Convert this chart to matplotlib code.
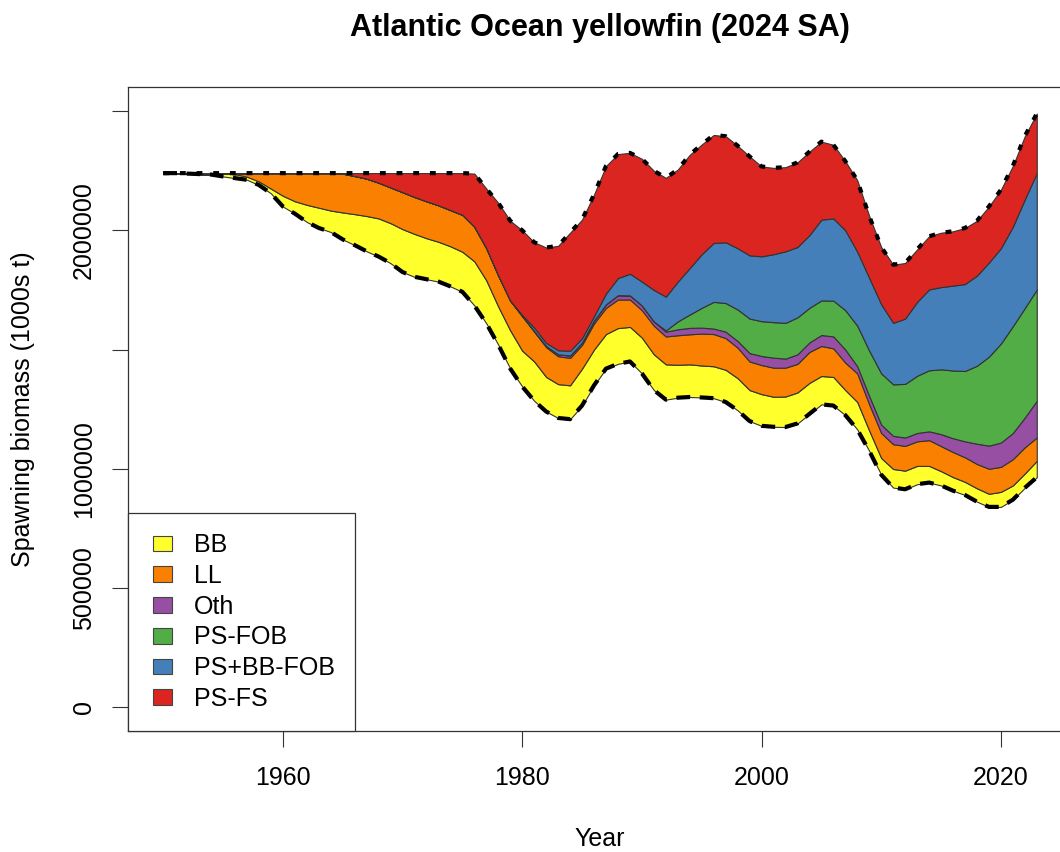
import numpy as np
import matplotlib
matplotlib.use("Agg")
import matplotlib.pyplot as plt
from matplotlib.patches import Patch, Rectangle
from matplotlib.legend_handler import HandlerPatch

plt.rcParams["font.family"] = ["Liberation Sans", "DejaVu Sans"]

# ---------------- data (spawning biomass, millions) ----------------
years = np.arange(1950, 2024)

# actual spawning biomass (bottom, dashed)
ssb = [2.240, 2.240, 2.238, 2.236, 2.234, 2.226, 2.219, 2.212, 2.190, 2.155,
       2.100, 2.070, 2.035, 2.010, 1.993, 1.962, 1.938, 1.912, 1.890, 1.862,
       1.825, 1.805, 1.795, 1.785, 1.765, 1.742, 1.685, 1.610, 1.520, 1.420,
       1.345, 1.285, 1.240, 1.213, 1.208, 1.265, 1.350, 1.420, 1.440, 1.450,
       1.400, 1.330, 1.290, 1.298, 1.301, 1.299, 1.296, 1.280, 1.245, 1.200,
       1.180, 1.176, 1.175, 1.190, 1.230, 1.270, 1.265, 1.225, 1.165, 1.075,
       0.975, 0.921, 0.914, 0.935, 0.942, 0.930, 0.908, 0.890, 0.862, 0.840,
       0.840, 0.870, 0.920, 0.964]

# upper edge of the BB layer (from 1955)
bb_start = 1955
top_bb = [2.238, 2.236, 2.225, 2.205, 2.175,
          2.145, 2.122, 2.107, 2.095, 2.083, 2.075, 2.068, 2.060, 2.050, 2.030,
          2.005, 1.985, 1.967, 1.952, 1.933, 1.910, 1.870, 1.790, 1.680, 1.580,
          1.495, 1.450, 1.385, 1.355, 1.350, 1.420, 1.500, 1.565, 1.590, 1.595,
          1.550, 1.480, 1.438, 1.436, 1.438, 1.433, 1.430, 1.415, 1.380, 1.330,
          1.313, 1.302, 1.303, 1.320, 1.360, 1.389, 1.385, 1.330, 1.280, 1.160,
          1.045, 0.999, 0.992, 1.012, 1.012, 0.990, 0.965, 0.945, 0.918, 0.895,
          0.903, 0.930, 0.980, 1.033]

# upper edge of the LL layer (from 1957)
ll_start = 1957
top_ll = [2.240, 2.240, 2.240,
          2.240, 2.240, 2.240, 2.240, 2.240, 2.238, 2.228, 2.217, 2.200, 2.180,
          2.160, 2.140, 2.122, 2.105, 2.085, 2.065, 2.015, 1.925, 1.810, 1.705,
          1.640, 1.575, 1.510, 1.472, 1.465, 1.520, 1.610, 1.675, 1.710, 1.710,
          1.665, 1.600, 1.555, 1.560, 1.564, 1.567, 1.565, 1.548, 1.508, 1.450,
          1.435, 1.424, 1.424, 1.440, 1.490, 1.515, 1.505, 1.445, 1.400, 1.270,
          1.150, 1.103, 1.096, 1.115, 1.120, 1.095, 1.070, 1.048, 1.020, 1.000,
          1.008, 1.040, 1.090, 1.131]

# upper edge of the Oth layer (from 1981)
oth_start = 1981
top_oth = [1.578, 1.515, 1.480, 1.475, 1.530, 1.622, 1.690, 1.728, 1.727,
           1.685, 1.618, 1.575, 1.585, 1.591, 1.592, 1.588, 1.575, 1.536, 1.485,
           1.473, 1.466, 1.462, 1.480, 1.530, 1.561, 1.555, 1.500, 1.430, 1.305,
           1.185, 1.138, 1.131, 1.150, 1.157, 1.145, 1.128, 1.115, 1.105, 1.097,
           1.110, 1.150, 1.215, 1.285]

# upper edge of the PS-FOB layer (from 1992)
fob_start = 1992
top_psfob = [1.580, 1.618, 1.647, 1.675, 1.700, 1.695, 1.668, 1.630,
             1.619, 1.615, 1.612, 1.635, 1.675, 1.706, 1.705, 1.665, 1.600, 1.495,
             1.400, 1.354, 1.356, 1.390, 1.413, 1.417, 1.412, 1.410, 1.432, 1.470,
             1.525, 1.598, 1.674, 1.752]

# upper edge of the PS+BB-FOB layer (from 1980)
bbfob_start = 1980
top_psbbfob = [1.645, 1.592, 1.528, 1.497, 1.495, 1.548, 1.640, 1.735, 1.800, 1.818,
               1.785, 1.750, 1.722, 1.785, 1.842, 1.900, 1.947, 1.950, 1.925, 1.895,
               1.891, 1.900, 1.912, 1.930, 1.980, 2.045, 2.050, 2.000, 1.910, 1.800,
               1.690, 1.612, 1.630, 1.700, 1.752, 1.762, 1.768, 1.775, 1.810, 1.865,
               1.925, 2.015, 2.130, 2.240]

# unfished biomass (top, dotted) = upper edge of PS-FS layer
top_psfs = [2.240, 2.240, 2.240, 2.240, 2.240, 2.240, 2.240, 2.240, 2.240, 2.240,
            2.240, 2.240, 2.240, 2.240, 2.240, 2.240, 2.240, 2.240, 2.240, 2.240,
            2.240, 2.240, 2.240, 2.240, 2.240, 2.240, 2.238, 2.175, 2.115, 2.040,
            2.000, 1.950, 1.928, 1.935, 1.990, 2.045, 2.150, 2.270, 2.320, 2.325,
            2.300, 2.250, 2.220, 2.255, 2.317, 2.360, 2.400, 2.395, 2.355, 2.310,
            2.268, 2.262, 2.265, 2.285, 2.330, 2.372, 2.359, 2.290, 2.210, 2.060,
            1.930, 1.856, 1.863, 1.920, 1.975, 1.990, 1.996, 2.010, 2.040, 2.100,
            2.170, 2.270, 2.395, 2.490]

fleets = ["BB", "LL", "Oth", "PS-FOB", "PS+BB-FOB", "PS-FS"]
colors = ["#FFFF2B", "#F98000", "#974FA3", "#52AD47", "#447FB9", "#DA2520"]

scale = 1e6
title = "Atlantic Ocean yellowfin (2024 SA)"
xlabel = "Year"
ylabel = "Spawning biomass (1000s t)"
xticks = [1960, 1980, 2000, 2020]
yticks = [0, 500000, 1000000, 1500000, 2000000, 2500000]
yticklabels = ["0", "500000", "1000000", "", "2000000", ""]


def pad(start, vals, below):
    k = start - years[0]
    return np.concatenate([below[:k], np.asarray(vals, float)])


base = np.asarray(ssb, float)
b_bb = pad(bb_start, top_bb, base)
b_ll = pad(ll_start, top_ll, b_bb)
b_oth = pad(oth_start, top_oth, b_ll)
b_fob = pad(fob_start, top_psfob, b_oth)
b_bbfob = pad(bbfob_start, top_psbbfob, b_fob)
b_top = np.asarray(top_psfs, float)
bounds = [base, b_bb, b_ll, b_oth, b_fob, b_bbfob, b_top]

# ---------------- figure ----------------
W, H = 1060, 852
fig = plt.figure(figsize=(W / 100, H / 100), dpi=100)
L, R, T, B = 128.3, 1071.7, 87.3, 731.0
ax = fig.add_axes([L / W, 1 - B / H, (R - L) / W, (B - T) / H])

for i, (name, col) in enumerate(zip(fleets, colors)):
    ax.fill_between(years, bounds[i] * scale, bounds[i + 1] * scale,
                    facecolor=col, edgecolor="#333333", linewidth=0.8, zorder=2)

ax.plot(years, base * scale, color="black", lw=3.0,
        linestyle=(0, (3.3, 2.3)), zorder=4)
ax.plot(years, b_top * scale, color="black", lw=3.0,
        linestyle=(0, (1.4, 2.6)), zorder=4)

ax.set_xlim(1947.08, 2025.92)
ax.set_ylim(-100000, 2600000)
ax.set_xticks(xticks)
ax.set_xticklabels([str(x) for x in xticks])
ax.set_yticks(yticks)
ax.set_yticklabels(yticklabels, rotation=90, va="center")
ax.tick_params(direction="out", length=11.3, width=0.8, labelsize=18,
               color="#333333")
ax.tick_params(axis="x", pad=14)
ax.tick_params(axis="y", pad=12)
for s in ax.spines.values():
    s.set_linewidth(0.9)
    s.set_color("#333333")


class ShiftedSwatch(HandlerPatch):
    def create_artists(self, legend, orig_handle, xdescent, ydescent,
                       width, height, fontsize, trans):
        off = 3.2   # points
        w = width - off
        p = Rectangle((-xdescent + off, -ydescent), w, height,
                      facecolor=orig_handle.get_facecolor(),
                      edgecolor="#444444", linewidth=0.8, transform=trans)
        return [p]


handles = [Patch(facecolor=c, edgecolor="#444444", linewidth=0.8) for c in colors]
leg = ax.legend(handles, fleets, loc="lower left", bbox_to_anchor=(0, 0),
                borderaxespad=0, fancybox=False, framealpha=1,
                edgecolor="#333333", fontsize=18, handlelength=0.95,
                handleheight=0.6, handletextpad=0.88, labelspacing=0.27,
                borderpad=0.8,
                handler_map={Patch: ShiftedSwatch()})
leg.get_frame().set_linewidth(0.9)
leg.set_zorder(6)

fig.text(600 / W, 1 - 36 / H, title, ha="center", va="baseline",
         fontsize=22, fontweight="bold")
fig.text(600 / W, 1 - 839 / H, xlabel, ha="center", va="center", fontsize=18)
fig.text(23 / W, 1 - 409 / H, ylabel, ha="center", va="center",
         rotation=90, fontsize=18)

fig.savefig("out.png", dpi=100)
